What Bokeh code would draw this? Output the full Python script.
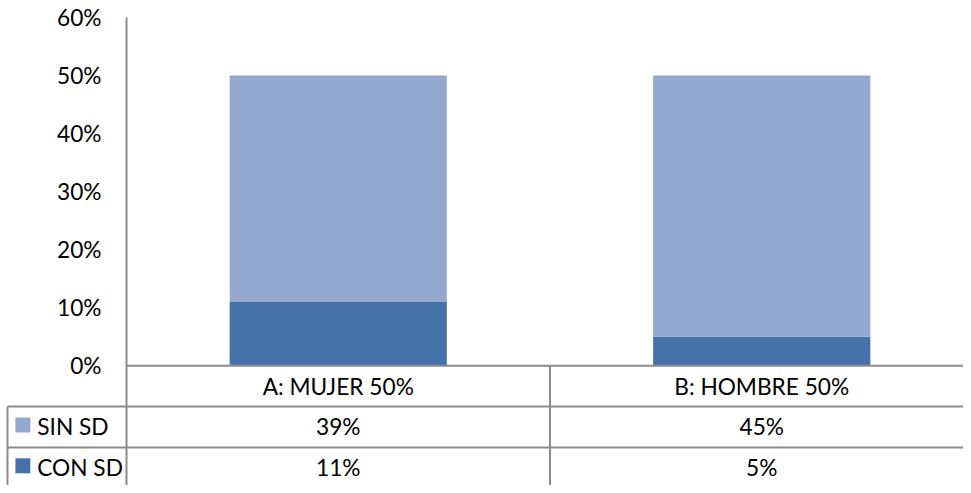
from bokeh.plotting import figure
from bokeh.models import Range1d, FixedTicker, NumeralTickFormatter, ColumnDataSource
from bokeh.core.properties import value
from bokeh.embed import file_html
from bokeh.resources import INLINE

# ---- data ----
categories = ["A: MUJER 50%", "B: HOMBRE 50%"]
series = ["SIN SD", "CON SD"]
sin_sd = [0.39, 0.45]
con_sd = [0.11, 0.05]
y_ticks = [0.0, 0.1, 0.2, 0.3, 0.4, 0.5, 0.6]

# ---- style / layout ----
W, H = 963, 485
SX, SY = W / 971, H / 493          # reference (971x493) -> canvas scale
FONT = "Lato"
FS = "22.7px"
C_SIN = "#95a9d0"
C_CON = "#4472a8"
GRID = "#8c8c8c"
LEFT = round(127 * SX)
TOP = round(17 * SY)
CAT_PX = 427.0 * SX       # pixel width of one category
ROW_PX = 41.5 * SY        # pixel height of a table row
ZERO_PX = 354.0 * SY      # frame px from 60% to 0%
BELOW_PX = H - TOP - ZERO_PX

frame_w = W - LEFT
p = figure(width=W, height=H, output_backend="svg", toolbar_location=None,
           x_axis_location=None, min_border_left=LEFT, min_border_right=0,
           min_border_top=TOP, min_border_bottom=0,
           x_range=Range1d(0, frame_w / CAT_PX),
           y_range=Range1d(-0.6 * BELOW_PX / ZERO_PX, 0.6))
p.extra_y_ranges = {"table": Range1d(-BELOW_PX / ROW_PX, ZERO_PX / ROW_PX)}
p.outline_line_color = None
p.grid.visible = False
p.background_fill_color = "white"
p.border_fill_color = "white"

ax = p.yaxis[0]
ax.ticker = FixedTicker(ticks=y_ticks)
ax.formatter = NumeralTickFormatter(format="0%")
ax.major_tick_line_color = None
ax.minor_tick_line_color = None
ax.major_tick_out = 0
ax.major_label_standoff = 25
ax.axis_line_color = GRID
ax.axis_line_width = 2
ax.major_label_text_font = FONT
ax.major_label_text_font_size = FS
ax.major_label_text_color = "black"

# ---- bars ----
xs = [i + 0.5 for i in range(len(categories))]
src = ColumnDataSource(dict(x=xs, sin=sin_sd, con=con_sd))
p.vbar_stack(["con", "sin"], x="x", width=219 / 427, color=[C_CON, C_SIN],
             source=src, line_color=None)

# ---- data table ----
n = len(categories)
def px_to_x(px):
    """reference pixel column -> category units"""
    return (px - 127) / 427

leg_left = px_to_x(7)
# horizontal lines
hx0 = [0] + [leg_left] * len(series)
hx1 = [n] * (len(series) + 1)
hy = [-(i) for i in range(len(series) + 1)]
p.segment(x0=hx0, x1=hx1, y0=hy, y1=hy, line_color=GRID, line_width=2,
          y_range_name="table", level="overlay")
# vertical lines
vx = [leg_left] + list(range(1, n))
vy0 = [-1] + [0] * (n - 1)
vy1 = [-len(series) - 1] * n
p.segment(x0=vx, x1=vx, y0=vy0, y1=vy1, line_color=GRID, line_width=2,
          y_range_name="table", level="overlay")

# header labels
p.text(x=xs, y=[-0.5] * n, text=categories, text_font=value(FONT),
       text_font_size=FS, text_align="center", text_baseline="middle",
       text_color="black", y_range_name="table")
# cell values
rows = [sin_sd, con_sd]
cx, cy, ct = [], [], []
for r, vals in enumerate(rows):
    for i, v in enumerate(vals):
        cx.append(xs[i])
        cy.append(-(r + 1.5))
        ct.append(f"{round(v * 100)}%")
p.text(x=cx, y=cy, text=ct, text_font=value(FONT), text_font_size=FS,
       text_align="center", text_baseline="middle", text_color="black",
       y_range_name="table")
# legend keys (drawn as thick butt-capped segments, 15 x 15 px)
ly = [-(r + 1.45) for r in range(len(series))]
p.segment(x0=[px_to_x(15)] * len(series), x1=[px_to_x(30)] * len(series),
          y0=ly, y1=ly, line_color=[C_SIN, C_CON], line_width=15,
          line_cap="butt", y_range_name="table", level="overlay")
p.text(x=[px_to_x(37)] * len(series), y=[-(r + 1.5) for r in range(len(series))],
       text=series, text_font=value(FONT), text_font_size=FS, text_align="left",
       text_baseline="middle", text_color="black", y_range_name="table",
       level="overlay")

open("out.html", "w").write(file_html(p, INLINE))
